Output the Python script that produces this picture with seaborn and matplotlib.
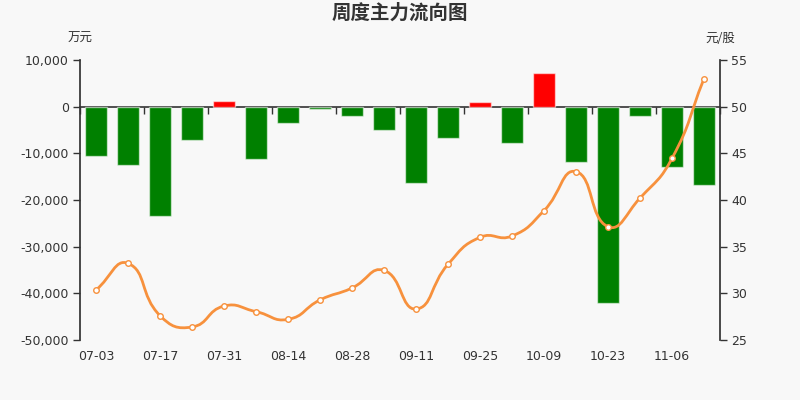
import numpy as np
import pandas as pd
import matplotlib
matplotlib.use("Agg")
import matplotlib.pyplot as plt
from matplotlib.path import Path
from matplotlib.patches import PathPatch
from matplotlib.ticker import FuncFormatter
import seaborn as sns

# weekly data
weeks = ["07-03", "07-10", "07-17", "07-24", "07-31", "08-07", "08-14",
         "08-21", "08-28", "09-04", "09-11", "09-18", "09-25", "10-02",
         "10-09", "10-16", "10-23", "10-30", "11-06", "11-13"]
flows = [-10500, -12430, -23430, -7140, 1150, -11200, -3430, -430, -2000,
         -5000, -16430, -6790, 900, -7710, 7210, -11790, -42070, -2070,
         -12930, -16790]
prices = [30.36, 33.21, 27.61, 26.39, 28.64, 28.04, 27.21, 29.29, 30.57,
          32.46, 28.32, 33.11, 36.00, 36.14, 38.86, 43.04, 37.14, 40.21,
          44.46, 53.00]
label_weeks = weeks[::2]

BG = "#f8f8f8"
TXT = "#333333"
GREEN = "#008000"
RED = "#ff0000"
ORANGE = "#f7913d"


def smooth_path(ax, xs, ys, smooth=0.5):
    """Echarts-like smooth curve through points, returned in data coords."""
    pts = ax.transData.transform(np.column_stack([xs, ys]))
    n = len(pts)
    cps = []
    for i in range(n):
        prev = pts[i - 1] if i > 0 else pts[i]
        nxt = pts[i + 1] if i < n - 1 else pts[i]
        v = (nxt - prev) * smooth
        d0 = np.hypot(*(pts[i] - prev))
        d1 = np.hypot(*(pts[i] - nxt))
        s = d0 + d1
        if s:
            d0, d1 = d0 / s, d1 / s
        cps.append((pts[i] - v * d0, pts[i] + v * d1))
    verts = [pts[0]]
    codes = [Path.MOVETO]
    for i in range(1, n):
        verts += [cps[i - 1][1], cps[i][0], pts[i]]
        codes += [Path.CURVE4] * 3
    verts = ax.transData.inverted().transform(np.array(verts))
    return Path(verts, codes)


def main():
    sns.set_theme(style="white")
    plt.rcParams["font.family"] = ["DejaVu Sans", "Noto Sans CJK SC"]

    df = pd.DataFrame({"week": weeks, "flow": flows, "price": prices})
    df["sign"] = np.where(df["flow"] >= 0, "in", "out")

    fig = plt.figure(figsize=(8, 4), dpi=100, facecolor=BG)
    ax = fig.add_axes([0.1, 0.15, 0.8, 0.7])
    ax.set_facecolor(BG)

    sns.barplot(data=df, x="week", y="flow", hue="sign", order=weeks,
                palette={"in": RED, "out": GREEN}, dodge=False, width=0.7,
                saturation=1, legend=False, edgecolor=(1, 1, 1, 0.55),
                linewidth=1, ax=ax)

    ax.set_xlim(-0.5, len(weeks) - 0.5)
    ax.set_ylim(-50000, 10000)
    ax.set_yticks(range(-50000, 10001, 10000))
    ax.yaxis.set_major_formatter(FuncFormatter(lambda v, p: f"{int(v):,}"))
    ax.set_xticks([weeks.index(w) for w in label_weeks])
    ax.set_xticklabels(label_weeks)
    ax.set_xlabel("")
    ax.set_ylabel("")
    for s in ["top", "right", "bottom"]:
        ax.spines[s].set_visible(False)
    ax.spines["left"].set_color(TXT)
    ax.tick_params(axis="y", left=True, length=5, width=1, color=TXT,
                   labelcolor=TXT, labelsize=9, pad=3)
    ax.tick_params(axis="x", bottom=False, labelcolor=TXT, labelsize=9,
                   pad=1)

    # category axis drawn at zero with ticks between every two weeks
    y0 = (0 - ax.get_ylim()[0]) / (ax.get_ylim()[1] - ax.get_ylim()[0])
    sec = ax.secondary_xaxis(y0)
    sec.set_alignment("bottom")
    sec.set_xticks(np.arange(-0.5, len(weeks), 2))
    sec.tick_params(axis="x", length=5, width=1, color=TXT,
                    labelbottom=False, labeltop=False, direction="out")
    sec.spines["bottom"].set_color(TXT)
    sec.spines["bottom"].set_linewidth(1.2)

    ax2 = ax.twinx()
    ax2.set_ylim(25, 55)
    ax2.set_yticks(range(25, 56, 5))
    for s in ["top", "left", "bottom"]:
        ax2.spines[s].set_visible(False)
    ax2.spines["right"].set_color(TXT)
    ax2.tick_params(axis="y", right=True, length=5, width=1, color=TXT,
                    labelcolor=TXT, labelsize=9, pad=3)
    ax2.set_ylabel("")

    xs = np.arange(len(weeks))
    path = smooth_path(ax2, xs, df["price"].values)
    ax2.add_patch(PathPatch(path, facecolor="none", edgecolor=ORANGE,
                            linewidth=2, zorder=3))
    sns.scatterplot(x=xs, y=df["price"].values, ax=ax2, s=16,
                    color="white", edgecolor=ORANGE, linewidth=1, zorder=4)

    fig.text(0.5, 0.967, "周度主力流向图", ha="center", va="center",
             fontsize=14, color=TXT, fontweight="bold",
             family=["Noto Sans CJK SC", "DejaVu Sans"])
    fig.text(0.1, 0.903, "万元", ha="center", va="center", fontsize=9,
             color=TXT, family=["Noto Sans CJK SC", "DejaVu Sans"])
    fig.text(0.9, 0.903, "元/股", ha="center", va="center", fontsize=9,
             color=TXT, family=["Noto Sans CJK SC", "DejaVu Sans"])

    fig.savefig("out.png", dpi=100, facecolor=BG)
    plt.close(fig)


if __name__ == "__main__":
    main()
